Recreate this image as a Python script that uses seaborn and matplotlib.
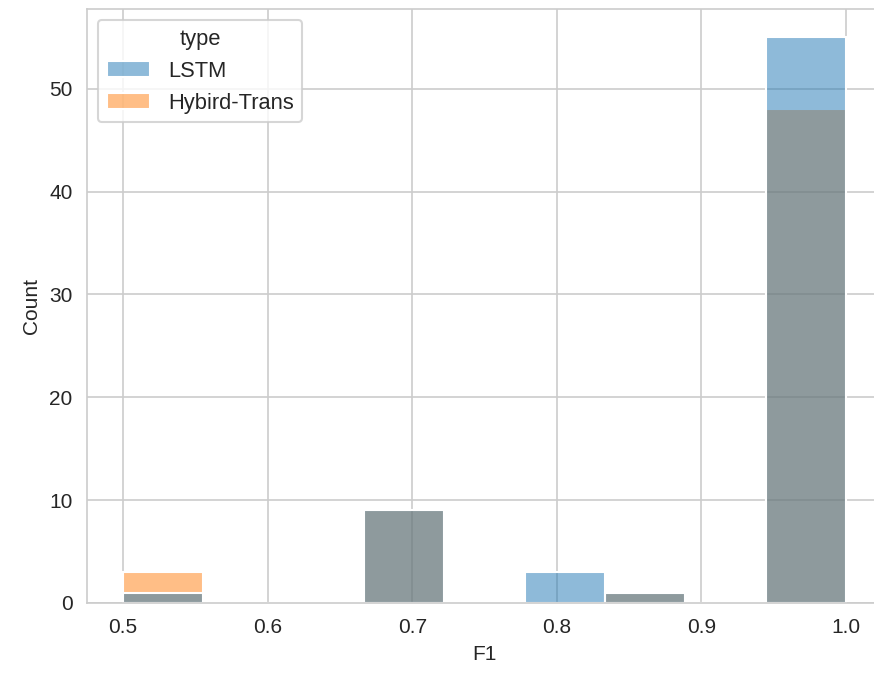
import matplotlib
matplotlib.use("Agg")
import matplotlib.pyplot as plt
import seaborn as sns
import pandas as pd

# F1 scores observed per model and how many runs reached each score
f1_values = [0.5, 0.7, 0.8, 0.85, 1.0]
lstm_counts = [1, 9, 3, 1, 55]
hybrid_counts = [3, 9, 0, 1, 48]
model_types = ["LSTM", "Hybird-Trans"]

rows = []
for model, counts in zip(model_types, [lstm_counts, hybrid_counts]):
    for v, c in zip(f1_values, counts):
        rows.extend([{"F1": v, "type": model}] * c)
df = pd.DataFrame(rows)

sns.set_style("whitegrid")
plt.rcParams["font.family"] = ["Liberation Sans", "DejaVu Sans"]
plt.rcParams["legend.fontsize"] = 10.5
plt.rcParams["legend.title_fontsize"] = 10.5

fig = plt.figure(figsize=(874 / 150, 679 / 150), dpi=150)
ax = fig.add_axes([87 / 874, 76 / 679, 795 / 874, 594 / 679])

sns.histplot(data=df, x="F1", hue="type", hue_order=model_types,
             bins=9, binrange=(0.5, 1.0), ax=ax)

fig.savefig("out.png", dpi=150)
